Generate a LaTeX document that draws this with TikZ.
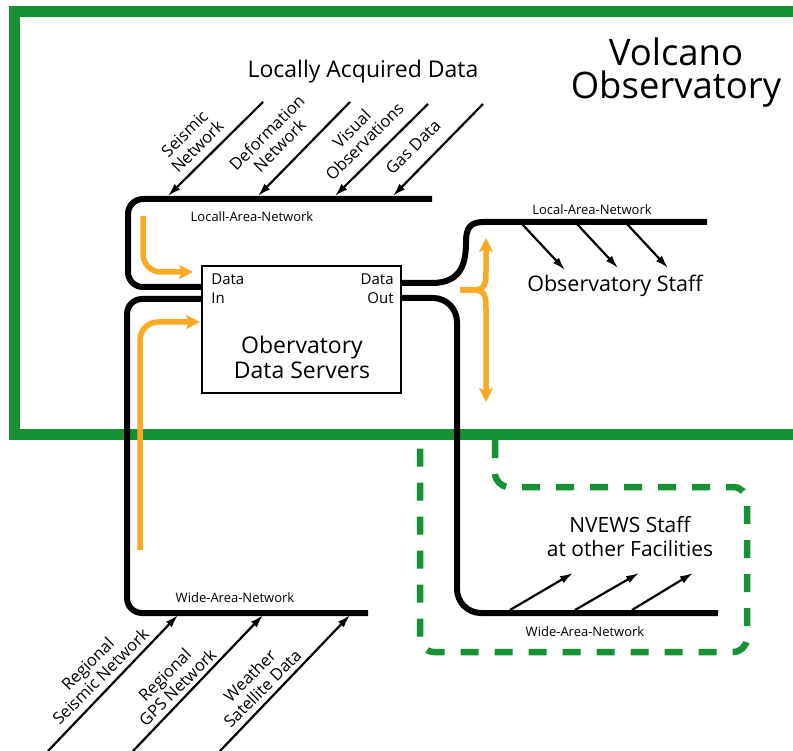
\documentclass[tikz,border=0pt]{standalone}
\usepackage{fontspec}
\setmainfont{Open Sans}
\usetikzlibrary{arrows.meta,positioning}

\definecolor{obsgreen}{RGB}{22,146,52}
\definecolor{flowc}{RGB}{250,170,35}

\tikzset{
  lan/.style={line width=6pt,rounded corners=15pt},
  feed/.style={line width=2.2pt,-{Latex[length=13pt,width=8pt]}},
  flow/.style={draw=flowc,line width=5.5pt,rounded corners=18pt,-{Stealth[length=14pt,width=14pt,inset=3pt]}},
  netname/.style={font=\fontsize{13}{13}\selectfont,inner sep=0pt},
  srcname/.style={font=\fontsize{16.5}{18}\selectfont,align=center,rotate=45,inner sep=0pt},
  bigname/.style={font=\fontsize{21}{24}\selectfont,align=center,inner sep=0pt}
}

\begin{document}
\begin{tikzpicture}[x=1pt,y=-1pt]
  \useasboundingbox (0,0) rectangle (793,751);
  % observatory walls and the outside facilities
  \draw[obsgreen,line width=11pt] (800,11.5) -- (14.5,11.5) -- (14.5,434) -- (800,434);
  \draw[obsgreen,line width=6.5pt,dash pattern=on 18pt off 16pt,rounded corners=14pt]
    (495,440) -- (495,487) -- (747,487) -- (747,652) -- (420,652) -- (420,440);

  \node[font=\fontsize{36.5}{33}\selectfont,align=center,inner sep=0pt] (volc) at (676,73) {Volcano\\Observatory};
  \node[font=\fontsize{23}{20}\selectfont,inner sep=0pt] (local) at (363,72) {Locally Acquired Data};

  % servers
  \node[draw,line width=1.6pt,minimum width=199pt,minimum height=127pt,inner sep=0pt] (srv) at (301.5,329.5) {};
  \node[bigname,font=\fontsize{23}{25}\selectfont] (srvname) at (302,357) {Obervatory\\Data Servers};
  \node[font=\fontsize{15}{19}\selectfont,align=left,inner sep=0pt,below right=8pt and 10pt of srv.north west] (din) {Data\\In};
  \node[font=\fontsize{15}{19}\selectfont,align=right,inner sep=0pt,below left=8pt and 8pt of srv.north east] (dout) {Data\\Out};

  % networks
  \draw[lan] (432,199) -- (128,199) -- (128,287) -- (srv.west |- 0,287);
  \draw[lan] (srv.west |- 0,299) -- (127,299) -- (127,613) -- (368,613);
  \draw[line width=6pt] (srv.east |- 0,283) -- (432,283) .. controls (462,283) and (466,262) .. (466,242)
    .. controls (466,228) and (470,222) .. (484,222) -- (707,222);
  \draw[lan,rounded corners=24pt] (srv.east |- 0,298) -- (457,298) -- (457,613) -- (718,613);

  \node[netname] (lanA) at (252,217) {Locall-Area-Network};
  \node[netname] (lanB) at (592,210) {Local-Area-Network};
  \node[netname] (wanA) at (235,598) {Wide-Area-Network};
  \node[netname] (wanB) at (585,632) {Wide-Area-Network};

  % local sources
  \coordinate (seisS) at (263,102);
  \coordinate (defoS) at (350,102);
  \coordinate (visuS) at (428,104);
  \coordinate (gasS) at (483,104);
  \draw[feed] (seisS) -- (168,196);
  \draw[feed] (defoS) -- (258,196);
  \draw[feed] (visuS) -- (335,196);
  \draw[feed] (gasS) -- (393,196);
  \node[srcname] (seis) at (191,140) {Seismic\\Network};
  \node[srcname] (defo) at (273,139) {Deformation\\Network};
  \node[srcname] (visu) at (358,135) {Visual\\Observations};
  \node[srcname] (gas) at (413,147) {Gas Data};

  % regional sources
  \coordinate (rseisS) at (48,751);
  \coordinate (rgpsS) at (133,751);
  \coordinate (wsatS) at (220,751);
  \draw[feed] (rseisS) -- (178,615);
  \draw[feed] (rgpsS) -- (263,615);
  \draw[feed] (wsatS) -- (350,615);
  \node[srcname] (rseis) at (94,670) {Regional\\Seismic Network};
  \node[srcname] (rgps) at (171,681) {Regional\\GPS Network};
  \node[srcname] (wsat) at (256,682) {Weather\\Satellite Data};

  % staff
  \node[font=\fontsize{21.5}{20}\selectfont,inner sep=0pt] (staff) at (615,286) {Observatory Staff};
  \draw[feed] (522,224) -- (565,270);
  \draw[feed] (577,224) -- (618,268);
  \draw[feed] (627,224) -- (668,268);
  \node[bigname] (nvews) at (630,537) {NVEWS Staff\\at other Facilities};
  \draw[feed] (510,610) -- (573,573);
  \draw[feed] (575,610) -- (639,573);
  \draw[feed] (632,610) -- (693,573);

  % data flow
  \draw[flow] (143,216) -- (143,272) -- (193,272);
  \draw[flow] (140,550) -- (140,322) -- (200,322);
  \draw[flow,rounded corners=0pt] (460,290) -- (474,290) .. controls (486,290) and (486,282) .. (486,270) -- (486,238);
  \draw[flow,rounded corners=0pt] (460,290) -- (474,290) .. controls (486,290) and (486,298) .. (486,310) -- (486,402);
\end{tikzpicture}
\end{document}
